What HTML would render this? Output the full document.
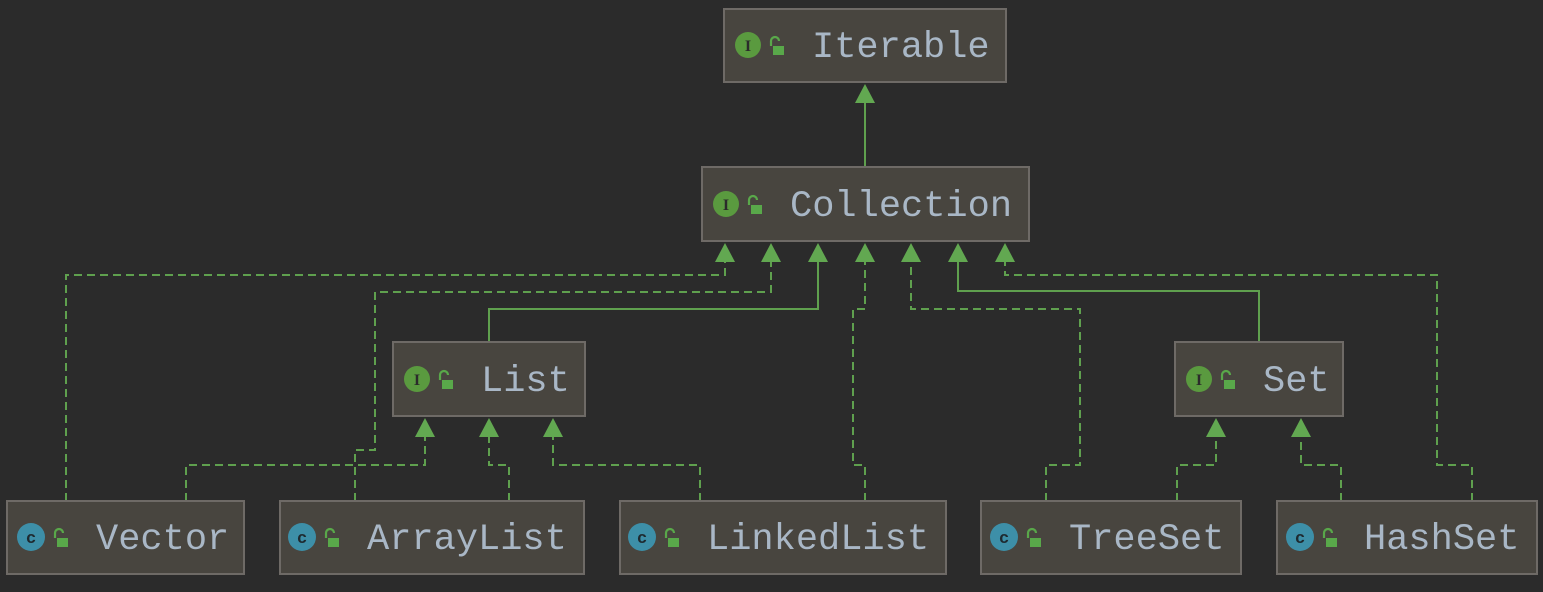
<!DOCTYPE html>
<html><head><meta charset="utf-8"><style>
html,body{margin:0;padding:0;background:#2b2b2b;}
svg{display:block}
text{font-family:"Liberation Mono",monospace;font-size:37px;fill:#a9b7c6;}
</style></head><body>
<svg width="1543" height="592" viewBox="0 0 1543 592" xmlns="http://www.w3.org/2000/svg">
<rect width="1543" height="592" fill="#2b2b2b"/>
<defs>
<g id="lock"><path d="M-5,-2 v-5 a4,4 0 0 1 8,0" fill="none" stroke="#59a84a" stroke-width="2.2"/><rect x="-3" y="-2" width="11" height="9" fill="#59a84a"/></g>
</defs>
<g fill="none" stroke="#5fa04e" stroke-width="2">
<!-- solid -->
<path d="M865,167 V100"/>
<path d="M489,342 V309 H818 V258"/>
<path d="M1259,342 V291 H958 V258"/>
</g>
<g fill="none" stroke="#5fa04e" stroke-width="2" stroke-dasharray="8,5">
<path d="M66,501 V275 H725 V258"/>
<path d="M355,501 V450 H375 V292 H771 V258"/>
<path d="M509,501 V465 H489 V435"/>
<path d="M186,501 V465 H425 V435"/>
<path d="M700,501 V465 H553 V435"/>
<path d="M865,501 V465 H853 V309 H865 V258"/>
<path d="M1046,501 V465 H1080 V309 H911 V258"/>
<path d="M1472,501 V465 H1437 V275 H1005 V258"/>
<path d="M1177,501 V465 H1216 V435"/>
<path d="M1341,501 V465 H1301 V435"/>
</g>
<g fill="#62a851">
<polygon points="865,84 855,103 875,103"/>
<polygon points="725,243 715,262 735,262"/>
<polygon points="771,243 761,262 781,262"/>
<polygon points="818,243 808,262 828,262"/>
<polygon points="865,243 855,262 875,262"/>
<polygon points="911,243 901,262 921,262"/>
<polygon points="958,243 948,262 968,262"/>
<polygon points="1005,243 995,262 1015,262"/>
<polygon points="425,418 415,437 435,437"/>
<polygon points="489,418 479,437 499,437"/>
<polygon points="553,418 543,437 563,437"/>
<polygon points="1216,418 1206,437 1226,437"/>
<polygon points="1301,418 1291,437 1311,437"/>
</g>
<g stroke="#6e6a66" stroke-width="2" fill="#48453f">
<rect x="724" y="9" width="282" height="73"/>
<rect x="702" y="167" width="327" height="74"/>
<rect x="393" y="342" width="192" height="74"/>
<rect x="1175" y="342" width="168" height="74"/>
<rect x="7" y="501" width="237" height="73"/>
<rect x="280" y="501" width="304" height="73"/>
<rect x="620" y="501" width="326" height="73"/>
<rect x="981" y="501" width="260" height="73"/>
<rect x="1277" y="501" width="260" height="73"/>
</g>
<!-- icons -->
<g font-family="Liberation Serif,serif">
<g><circle cx="748" cy="45" r="13" fill="#5a9a3f"/><text x="748" y="51" text-anchor="middle" style="font-size:16px;fill:#2b2b2b;font-family:'Liberation Serif',serif;font-weight:bold">I</text><use href="#lock" x="776" y="48"/></g>
<g><circle cx="726" cy="204" r="13" fill="#5a9a3f"/><text x="726" y="210" text-anchor="middle" style="font-size:16px;fill:#2b2b2b;font-family:'Liberation Serif',serif;font-weight:bold">I</text><use href="#lock" x="754" y="207"/></g>
<g><circle cx="417" cy="379" r="13" fill="#5a9a3f"/><text x="417" y="385" text-anchor="middle" style="font-size:16px;fill:#2b2b2b;font-family:'Liberation Serif',serif;font-weight:bold">I</text><use href="#lock" x="445" y="382"/></g>
<g><circle cx="1199" cy="379" r="13" fill="#5a9a3f"/><text x="1199" y="385" text-anchor="middle" style="font-size:16px;fill:#2b2b2b;font-family:'Liberation Serif',serif;font-weight:bold">I</text><use href="#lock" x="1227" y="382"/></g>
</g>
<g>
<g><circle cx="31" cy="537" r="14" fill="#3d8fa8"/><text x="31" y="543" text-anchor="middle" style="font-size:17px;fill:#1e2a30;font-family:'Liberation Sans',sans-serif;font-weight:bold">c</text><use href="#lock" x="60" y="540"/></g>
<g><circle cx="302" cy="537" r="14" fill="#3d8fa8"/><text x="302" y="543" text-anchor="middle" style="font-size:17px;fill:#1e2a30;font-family:'Liberation Sans',sans-serif;font-weight:bold">c</text><use href="#lock" x="331" y="540"/></g>
<g><circle cx="642" cy="537" r="14" fill="#3d8fa8"/><text x="642" y="543" text-anchor="middle" style="font-size:17px;fill:#1e2a30;font-family:'Liberation Sans',sans-serif;font-weight:bold">c</text><use href="#lock" x="671" y="540"/></g>
<g><circle cx="1004" cy="537" r="14" fill="#3d8fa8"/><text x="1004" y="543" text-anchor="middle" style="font-size:17px;fill:#1e2a30;font-family:'Liberation Sans',sans-serif;font-weight:bold">c</text><use href="#lock" x="1033" y="540"/></g>
<g><circle cx="1300" cy="537" r="14" fill="#3d8fa8"/><text x="1300" y="543" text-anchor="middle" style="font-size:17px;fill:#1e2a30;font-family:'Liberation Sans',sans-serif;font-weight:bold">c</text><use href="#lock" x="1329" y="540"/></g>
</g>
<text x="812" y="57">Iterable</text>
<text x="790" y="216">Collection</text>
<text x="481" y="391">List</text>
<text x="1263" y="391">Set</text>
<text x="96" y="549">Vector</text>
<text x="367" y="549">ArrayList</text>
<text x="707" y="549">LinkedList</text>
<text x="1069" y="549">TreeSet</text>
<text x="1364" y="549">HashSet</text>
</svg>
</body></html>
